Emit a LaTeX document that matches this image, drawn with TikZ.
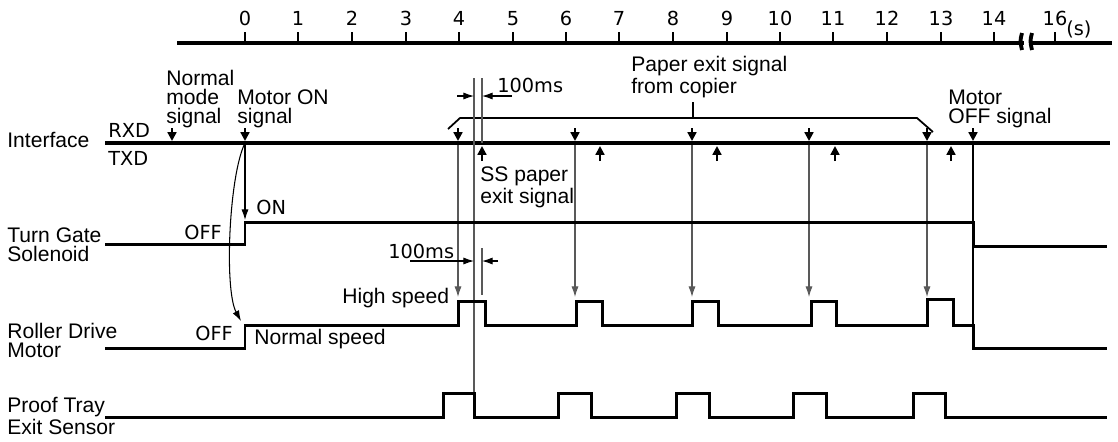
\documentclass[tikz,border=0pt]{standalone}
\usepackage{fontspec}
\setmainfont{Liberation Sans}
\newfontfamily\monofont{DejaVu Sans}
\usetikzlibrary{arrows.meta}

\tikzstyle{every node}=[anchor=base west, inner sep=0pt, align=left, font={\fontsize{12}{10.8}\selectfont}]
\tikzstyle{code}=[font={\monofont\fontsize{11}{12}\selectfont}]
\tikzstyle{wave}=[line width=1.7pt, line join=miter]
\tikzstyle{bus}=[line width=2.2pt]
\tikzstyle{sig}=[line width=1.2pt, -{Triangle[length=5pt,width=5pt]}]
\tikzstyle{guide}=[black!65, line width=0.6pt]
\tikzstyle{trig}=[guide, -{Latex[length=6pt,width=4pt]}]
\tikzstyle{dim}=[black, line width=0.6pt, -{Latex[length=6pt,width=4pt]}]

\begin{document}
\begin{tikzpicture}[x=0.02cm, y=-0.02cm]
    \useasboundingbox (0,0) rectangle (1118,441);
    \draw [bus] (177,43) -- (1112,43);
    \foreach \t/\x in {0/245,1/298,2/352,3/406,4/459,5/513,6/566,7/619,8/673,9/727,10/780,11/833,12/887,13/941,14/994,16/1055} {
        \draw [line width=1.5pt] (\x,32) -- (\x,43);
        \node [code, anchor=base] (t\t) at (\x,25) {\t};
    }
    \fill [white] (1024,30) rectangle (1030,55);
    \draw [line width=2.2pt] (1022,33) .. controls (1020,41) .. (1022,50);
    \draw [line width=2.2pt] (1032,33) .. controls (1030,41) .. (1032,50);
    \node [code] (unit) at (1066,35) {(s)};

    \node (iface) at (7,147) {Interface};
    \draw [bus] (105,143) -- (1110,143);
    \node [code] (rxd) at (108,137) {RXD};
    \node [code] (txd) at (108,165) {TXD};
    \coordinate (nmode) at (172,143);
    \coordinate (mon) at (245,143);
    \coordinate (moff) at (973,143);
    \node (nms) at (166,123) {Normal\\mode\\signal};
    \node (mons) at (237,123) {Motor ON\\signal};
    \node (pes) at (631,93) {Paper exit signal\\from copier};
    \node (mofs) at (948,123) {Motor\\OFF signal};
    \node (ssp) at (480,203) {SS paper\\exit signal};
    \draw [line width=1pt] (448,129) -- (460,118) -- (917,118) -- (933,132);
    \draw [line width=1pt] (693,118) -- (693,102);
    \foreach \x in {172,245,458,575,692,809,927,973}
        \draw [sig] (\x,128) -- (\x,141);
    \foreach \x in {482,600,717,835,951}
        \draw [sig] (\x,161) -- (\x,146);
    \foreach \x in {458,575,692,809,927}
        \draw [trig] (\x,145) -- (\x,297);

    \draw [guide] (474,78) -- (474,417);
    \draw [guide] (482,78) -- (482,143);
    \draw [dim] (457,96) -- (474,96);
    \draw [dim] (512,96) -- (482,96);
    \node [code] (dimtop) at (497,92) {100ms};

    \node (tgs) at (7,261) {Turn Gate\\Solenoid};
    \draw [wave] (105,244) -- (245,244) -- (245,222) -- (973,222) -- (973,246) -- (1107,246);
    \node [code] (offa) at (184,239) {OFF};
    \node [code] (ona) at (256,214) {ON};
    \draw [trig, black] (mon) -- (245,220);
    \draw [trig, black] (mon) .. controls (229,175) and (224,290) .. (241,321);

    \draw [guide] (482,248) -- (482,295);
    \draw [dim] (410,261) -- (474,261);
    \draw [dim] (498,261) -- (482,261);
    \node [code] (dimlow) at (388,258) {100ms};

    \node (rdm) at (7,357) {Roller Drive\\Motor};
    \draw [wave] (105,348) -- (245,348) -- (245,325) -- (458,325) -- (458,301) -- (485,301) -- (485,325) -- (576,325) -- (576,301) -- (602,301) -- (602,325) -- (692,325) -- (692,301) -- (718,301) -- (718,325) -- (811,325) -- (811,301) -- (836,301) -- (836,325) -- (927,325) -- (927,299) -- (953,299) -- (953,325) -- (973,325) -- (973,348) -- (1107,348);
    \node [code] (offb) at (195,340) {OFF};
    \node (hs) at (342,303) {High speed};
    \node (ns) at (254,344) {Normal speed};
    \draw [guide, black] (moff) -- (973,325);

    \node (pte) at (7,434) {Proof Tray\\Exit Sensor};
    \draw [wave] (105,417) -- (443,417) -- (443,393) -- (474,393) -- (474,417) -- (558,417) -- (558,393) -- (591,393) -- (591,417) -- (676,417) -- (676,393) -- (709,393) -- (709,417) -- (793,417) -- (793,393) -- (826,393) -- (826,417) -- (913,417) -- (913,393) -- (945,393) -- (945,417) -- (1107,417);
\end{tikzpicture}
\end{document}
